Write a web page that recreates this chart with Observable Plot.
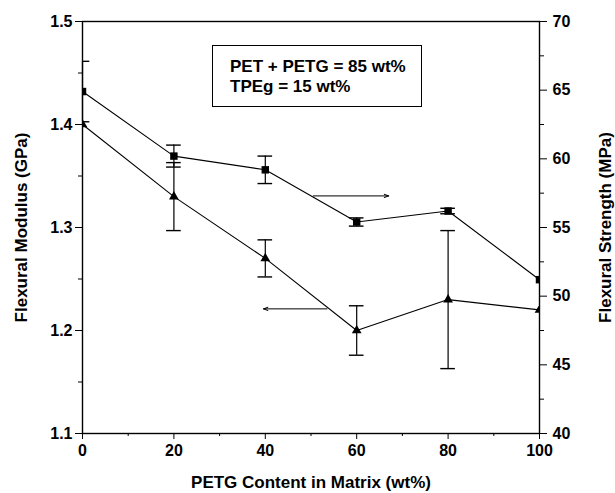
<!DOCTYPE html>
<html>
<head>
<meta charset="utf-8">
<script src="https://cdn.jsdelivr.net/npm/d3@7"></script>
<script src="https://cdn.jsdelivr.net/npm/@observablehq/plot@0.6"></script>
<style>
  html, body { margin: 0; padding: 0; background: #fff; }
  #wrap { position: relative; width: 615px; height: 493px; }
  #note {
    position: absolute; left: 212px; top: 45px; width: 208px; height: 60px;
    border: 1.5px solid #000; box-sizing: content-box;
    font-family: "Liberation Sans", Arial, sans-serif; font-weight: bold; font-size: 17px;
    line-height: 20px; padding: 0; color: #000;
  }
  #note div { position: absolute; left: 17px; }
</style>
</head>
<body>
<div id="wrap"></div>
<script>
// ---- data ----
const petgContent = [0, 20, 40, 60, 80, 100];                 // wt%
const modulus      = [1.40, 1.33, 1.27, 1.20, 1.23, 1.22];      // GPa (triangles)
const modulusErr   = [0, 0.033, 0.018, 0.024, 0.067, 0];
const strength     = [64.9, 60.2, 59.2, 55.4, 56.2, 51.2];      // MPa (squares)
const strengthErr  = [2.2, 0.8, 1.0, 0.3, 0.2, 0];

const xTicks = [0, 20, 40, 60, 80, 100];
const xMinor = [10, 30, 50, 70, 90];
const modTicks = [1.1, 1.2, 1.3, 1.4, 1.5];
const modMinor = [1.15, 1.25, 1.35, 1.45];
const strTicks = [40, 45, 50, 55, 60, 65, 70];
const strMinor = [42.5, 47.5, 52.5, 57.5, 62.5, 67.5];

const noteLines = ["PET + PETG = 85 wt%", "TPEg = 15 wt%"];
const xTitle = "PETG Content in Matrix (wt%)";
const yLeftTitle = "Flexural Modulus (GPa)";
const yRightTitle = "Flexural Strength (MPa)";

// arrows pointing to the axis each curve belongs to
const modArrow = {x1: 53.5, x2: 39.6, y: 1.221};   // modulus units
const strArrow = {x1: 50.5, x2: 67.0, y: 57.3};    // strength units

// ---- mapping the right (strength) axis onto the left scale ----
const modDomain = [1.1, 1.5], strDomain = [40, 70];
const toMod = s => modDomain[0] + (s - strDomain[0]) * (modDomain[1] - modDomain[0]) / (strDomain[1] - strDomain[0]);
const toStr = m => strDomain[0] + (m - modDomain[0]) * (strDomain[1] - strDomain[0]) / (modDomain[1] - modDomain[0]);

const rows = petgContent.map((x, i) => ({
  x, mod: modulus[i], modErr: modulusErr[i], str: strength[i], strErr: strengthErr[i]
}));
const capHalf = 1.6;

const modErrRows = rows.filter(d => d.modErr > 0);
const strErrRows = rows.filter(d => d.strErr > 0);

const arrows = [
  {x1: modArrow.x1, x2: modArrow.x2, y1: modArrow.y, y2: modArrow.y},
  {x1: strArrow.x1, x2: strArrow.x2, y1: toMod(strArrow.y), y2: toMod(strArrow.y)}
];

const titleFont = {fontSize: 17, fill: "#000", lineAnchor: "middle", textAnchor: "middle"};

const chart = Plot.plot({
  width: 615,
  height: 493,
  marginLeft: 82,
  marginRight: 76,
  marginTop: 21,
  marginBottom: 60,
  style: {fontFamily: "'Liberation Sans', Arial, sans-serif", fontSize: "16px", fontWeight: "bold", color: "#000", background: "#fff"},
  x: {domain: [0, 100]},
  y: {domain: modDomain},
  marks: [
    // axes
    Plot.axisX({ticks: xTicks, tickSize: 6, tickPadding: 5, tickFormat: d => String(d), label: null}),
    Plot.axisX({ticks: xMinor, tickSize: 3, tickFormat: () => "", label: null}),
    Plot.axisY({anchor: "left", ticks: modTicks, tickSize: 7, tickPadding: 3, tickFormat: d => d.toFixed(1), label: null}),
    Plot.axisY({anchor: "left", ticks: modMinor, tickSize: 4, tickFormat: () => "", label: null}),
    Plot.axisY({anchor: "right", ticks: strTicks.map(toMod), tickSize: 7, tickPadding: 6, tickFormat: d => String(Math.round(toStr(d))), label: null}),
    Plot.axisY({anchor: "right", ticks: strMinor.map(toMod), tickSize: 4, tickFormat: () => "", label: null}),
    Plot.frame({stroke: "#000", strokeWidth: 1.4}),
    // titles
    Plot.text([xTitle], {frameAnchor: "bottom", dy: 49, text: d => d, ...titleFont}),
    Plot.text([yLeftTitle], {frameAnchor: "left", dx: -61, rotate: -90, text: d => d, ...titleFont}),
    Plot.text([yRightTitle], {frameAnchor: "right", dx: 66, rotate: -90, text: d => d, ...titleFont}),
    // modulus error bars
    Plot.ruleX(modErrRows, {x: "x", y1: d => d.mod - d.modErr, y2: d => d.mod + d.modErr, stroke: "#000", strokeWidth: 1.2}),
    Plot.ruleY(modErrRows, {y: d => d.mod - d.modErr, x1: d => d.x - capHalf, x2: d => d.x + capHalf, stroke: "#000", strokeWidth: 1.4, clip: true}),
    Plot.ruleY(modErrRows, {y: d => d.mod + d.modErr, x1: d => d.x - capHalf, x2: d => d.x + capHalf, stroke: "#000", strokeWidth: 1.4, clip: true}),
    // strength error bars
    Plot.ruleX(strErrRows, {x: "x", y1: d => toMod(d.str - d.strErr), y2: d => toMod(d.str + d.strErr), stroke: "#000", strokeWidth: 1.2}),
    Plot.ruleY(strErrRows, {y: d => toMod(d.str - d.strErr), x1: d => d.x - capHalf, x2: d => d.x + capHalf, stroke: "#000", strokeWidth: 1.4, clip: true}),
    Plot.ruleY(strErrRows, {y: d => toMod(d.str + d.strErr), x1: d => d.x - capHalf, x2: d => d.x + capHalf, stroke: "#000", strokeWidth: 1.4, clip: true}),
    // lines
    Plot.line(rows, {x: "x", y: "mod", stroke: "#000", strokeWidth: 1.1}),
    Plot.line(rows, {x: "x", y: d => toMod(d.str), stroke: "#000", strokeWidth: 1.1}),
    // markers
    Plot.dot(rows, {x: "x", y: "mod", symbol: "triangle", r: 3.6, fill: "#000", stroke: "none", clip: true}),
    Plot.dot(rows, {x: "x", y: d => toMod(d.str), symbol: "square", r: 4.2, fill: "#000", stroke: "none", clip: true}),
    // arrows
    Plot.arrow(arrows, {x1: "x1", y1: "y1", x2: "x2", y2: "y2", stroke: "#000", strokeWidth: 1, headLength: 7, headAngle: 40})
  ]
});

const wrap = document.getElementById("wrap");
wrap.appendChild(chart);
const note = document.createElement("div");
note.id = "note";
noteLines.forEach((t, i) => {
  const line = document.createElement("div");
  line.textContent = t;
  line.style.top = (11 + i * 20) + "px";
  note.appendChild(line);
});
wrap.appendChild(note);
</script>
</body>
</html>
